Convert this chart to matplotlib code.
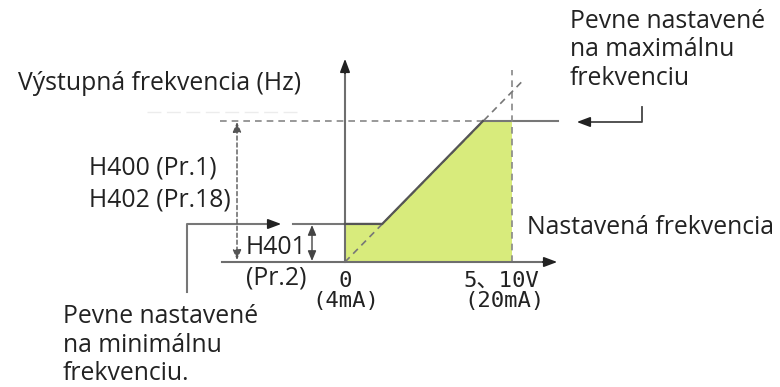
import matplotlib
matplotlib.use('Agg')
import matplotlib.pyplot as plt
from matplotlib.patches import Polygon

# ---- data (input signal in V, output frequency in % of maximum) ----
signal_pts = [0, 2.23, 8.26, 10]          # characteristic break points (input)
freq_pts = [27, 27, 100, 100]             # output frequency at those points
bias_line_x = [0, 10.6]                   # dashed proportional reference line
bias_line_y = [0, 128]
max_freq = 100
min_freq = 27
max_input = 10

# ---- layout mapping (pixels -> data) ----
W, H = 780, 387
X0, SX = 345, 16.7
Y0, SY = 262, 1.41

def px(x, y):
    return ((x - X0) / SX, (Y0 - y) / SY)

def pxx(x):
    return (x - X0) / SX

def pxy(y):
    return (Y0 - y) / SY

plt.rcParams['font.family'] = ['Open Sans', 'DejaVu Sans']
fig = plt.figure(figsize=(7.8, 3.87), dpi=100)
ax = fig.add_axes([0, 0, 1, 1])
ax.set_xlim(-X0 / SX, (W - X0) / SX)
ax.set_ylim(-(H - Y0) / SY, Y0 / SY)
ax.axis('off')

AX_C = '#6e6e6e'
DK = '#222222'
FILL = '#d8eb7c'

# green fill area
poly = [(0, 0)] + list(zip(signal_pts, freq_pts)) + [(max_input, 0)]
ax.add_patch(Polygon(poly, closed=True, facecolor=FILL, edgecolor='none', zorder=1))

# characteristic
ax.plot(signal_pts[:3], freq_pts[:3], color='#555555', lw=1.6, zorder=3)
ax.plot([signal_pts[0], signal_pts[0]], [0, min_freq], color=AX_C, lw=1.2, zorder=2)
# max level: dashed to the left, solid to the right
ax.plot([pxx(220), signal_pts[2]], [max_freq, max_freq], color='#888888', lw=1.2,
        ls=(0, (4, 3)), zorder=2)
ax.plot([signal_pts[2], pxx(558)], [max_freq, max_freq], color='#777777', lw=1.5, zorder=2)
# min level extends left
ax.plot([pxx(293), signal_pts[1]], [min_freq, min_freq], color='#777777', lw=1.5, zorder=2)
# dashed vertical at max input
ax.plot([max_input, max_input], [0, pxy(70)], color='#888888', lw=1.2, ls=(0, (4, 3)), zorder=2)
# dashed proportional line
ax.plot(bias_line_x, bias_line_y, color='#777777', lw=1.2, ls=(0, (4, 3)), zorder=2)

# axes
ax.plot([pxx(222), pxx(550)], [0, 0], color=AX_C, lw=1.5, zorder=2)
ax.annotate('', xy=(pxx(560), 0), xytext=(pxx(540), 0),
            arrowprops=dict(arrowstyle='-|>,head_length=0.8,head_width=0.3', color=DK, lw=1.2))
ax.plot([0, 0], [0, pxy(66)], color=AX_C, lw=1.5, zorder=2)
ax.annotate('', xy=(0, pxy(56)), xytext=(0, pxy(76)),
            arrowprops=dict(arrowstyle='-|>,head_length=0.8,head_width=0.3', color=DK, lw=1.2))

# faint line near the label
ax.plot([pxx(147), pxx(300)], [pxy(112), pxy(112)], color='#ececec', lw=1.0, ls=(0, (10, 4)))

# left min arrow
ax.plot([pxx(187), pxx(187), pxx(270)], [pxy(292), pxy(224), pxy(224)], color='#777777', lw=1.5)
ax.annotate('', xy=px(284, 224), xytext=px(266, 224),
            arrowprops=dict(arrowstyle='-|>,head_length=0.8,head_width=0.3', color=DK, lw=1.2))
# right max arrow
ax.plot([pxx(642), pxx(642), pxx(588)], [pxy(107), pxy(122), pxy(122)], color='#444444', lw=1.3)
ax.annotate('', xy=px(574, 122), xytext=px(592, 122),
            arrowprops=dict(arrowstyle='-|>,head_length=0.8,head_width=0.3', color=DK, lw=1.2))

# dashed double arrow (H400/H402)
ax.annotate('', xy=px(237, 122), xytext=px(237, 260),
            arrowprops=dict(arrowstyle='<|-|>,head_length=0.6,head_width=0.25', color='#555555',
                            lw=1.0, ls=(0, (3, 2)), shrinkA=0, shrinkB=0))
# small double arrow (H401)
ax.annotate('', xy=px(312, 225), xytext=px(312, 261),
            arrowprops=dict(arrowstyle='<|-|>,head_length=0.6,head_width=0.25', color='#444444',
                            lw=1.0, shrinkA=0, shrinkB=0))

fs = 17.8
ax.text(*px(18, 84), 'Výstupná frekvencia (Hz)', fontsize=fs, color=DK, ha='left', va='center')
ax.text(*px(89, 168), 'H400 (Pr.1)', fontsize=fs, color=DK, ha='left', va='center')
ax.text(*px(89, 200), 'H402 (Pr.18)', fontsize=fs, color=DK, ha='left', va='center')
ax.text(*px(246, 248), 'H401', fontsize=fs, color=DK, ha='left', va='center')
ax.text(*px(246, 278), '(Pr.2)', fontsize=fs, color=DK, ha='left', va='center')
ax.text(*px(527, 227), 'Nastavená frekvencia', fontsize=fs, color=DK, ha='left', va='center')
ax.text(*px(570, 50), 'Pevne nastavené\nna maximálnu\nfrekvenciu', fontsize=fs, color=DK,
        ha='left', va='center', linespacing=1.2)
ax.text(*px(63, 345), 'Pevne nastavené\nna minimálnu\nfrekvenciu.', fontsize=fs, color=DK,
        ha='left', va='center', linespacing=1.2)

tf = ['DejaVu Sans Mono', 'Noto Sans CJK JP']
ax.text(*px(345, 281), '0', fontsize=16, color=DK, ha='center', va='center', family=tf)
ax.text(*px(346, 301), '(4mA)', fontsize=16, color=DK, ha='center', va='center', family=tf)
ax.text(*px(501, 281), '5、10V', fontsize=16, color=DK, ha='center', va='center', family=tf)
ax.text(*px(504, 301), '(20mA)', fontsize=16, color=DK, ha='center', va='center', family=tf)

fig.savefig('out.png', dpi=100)
